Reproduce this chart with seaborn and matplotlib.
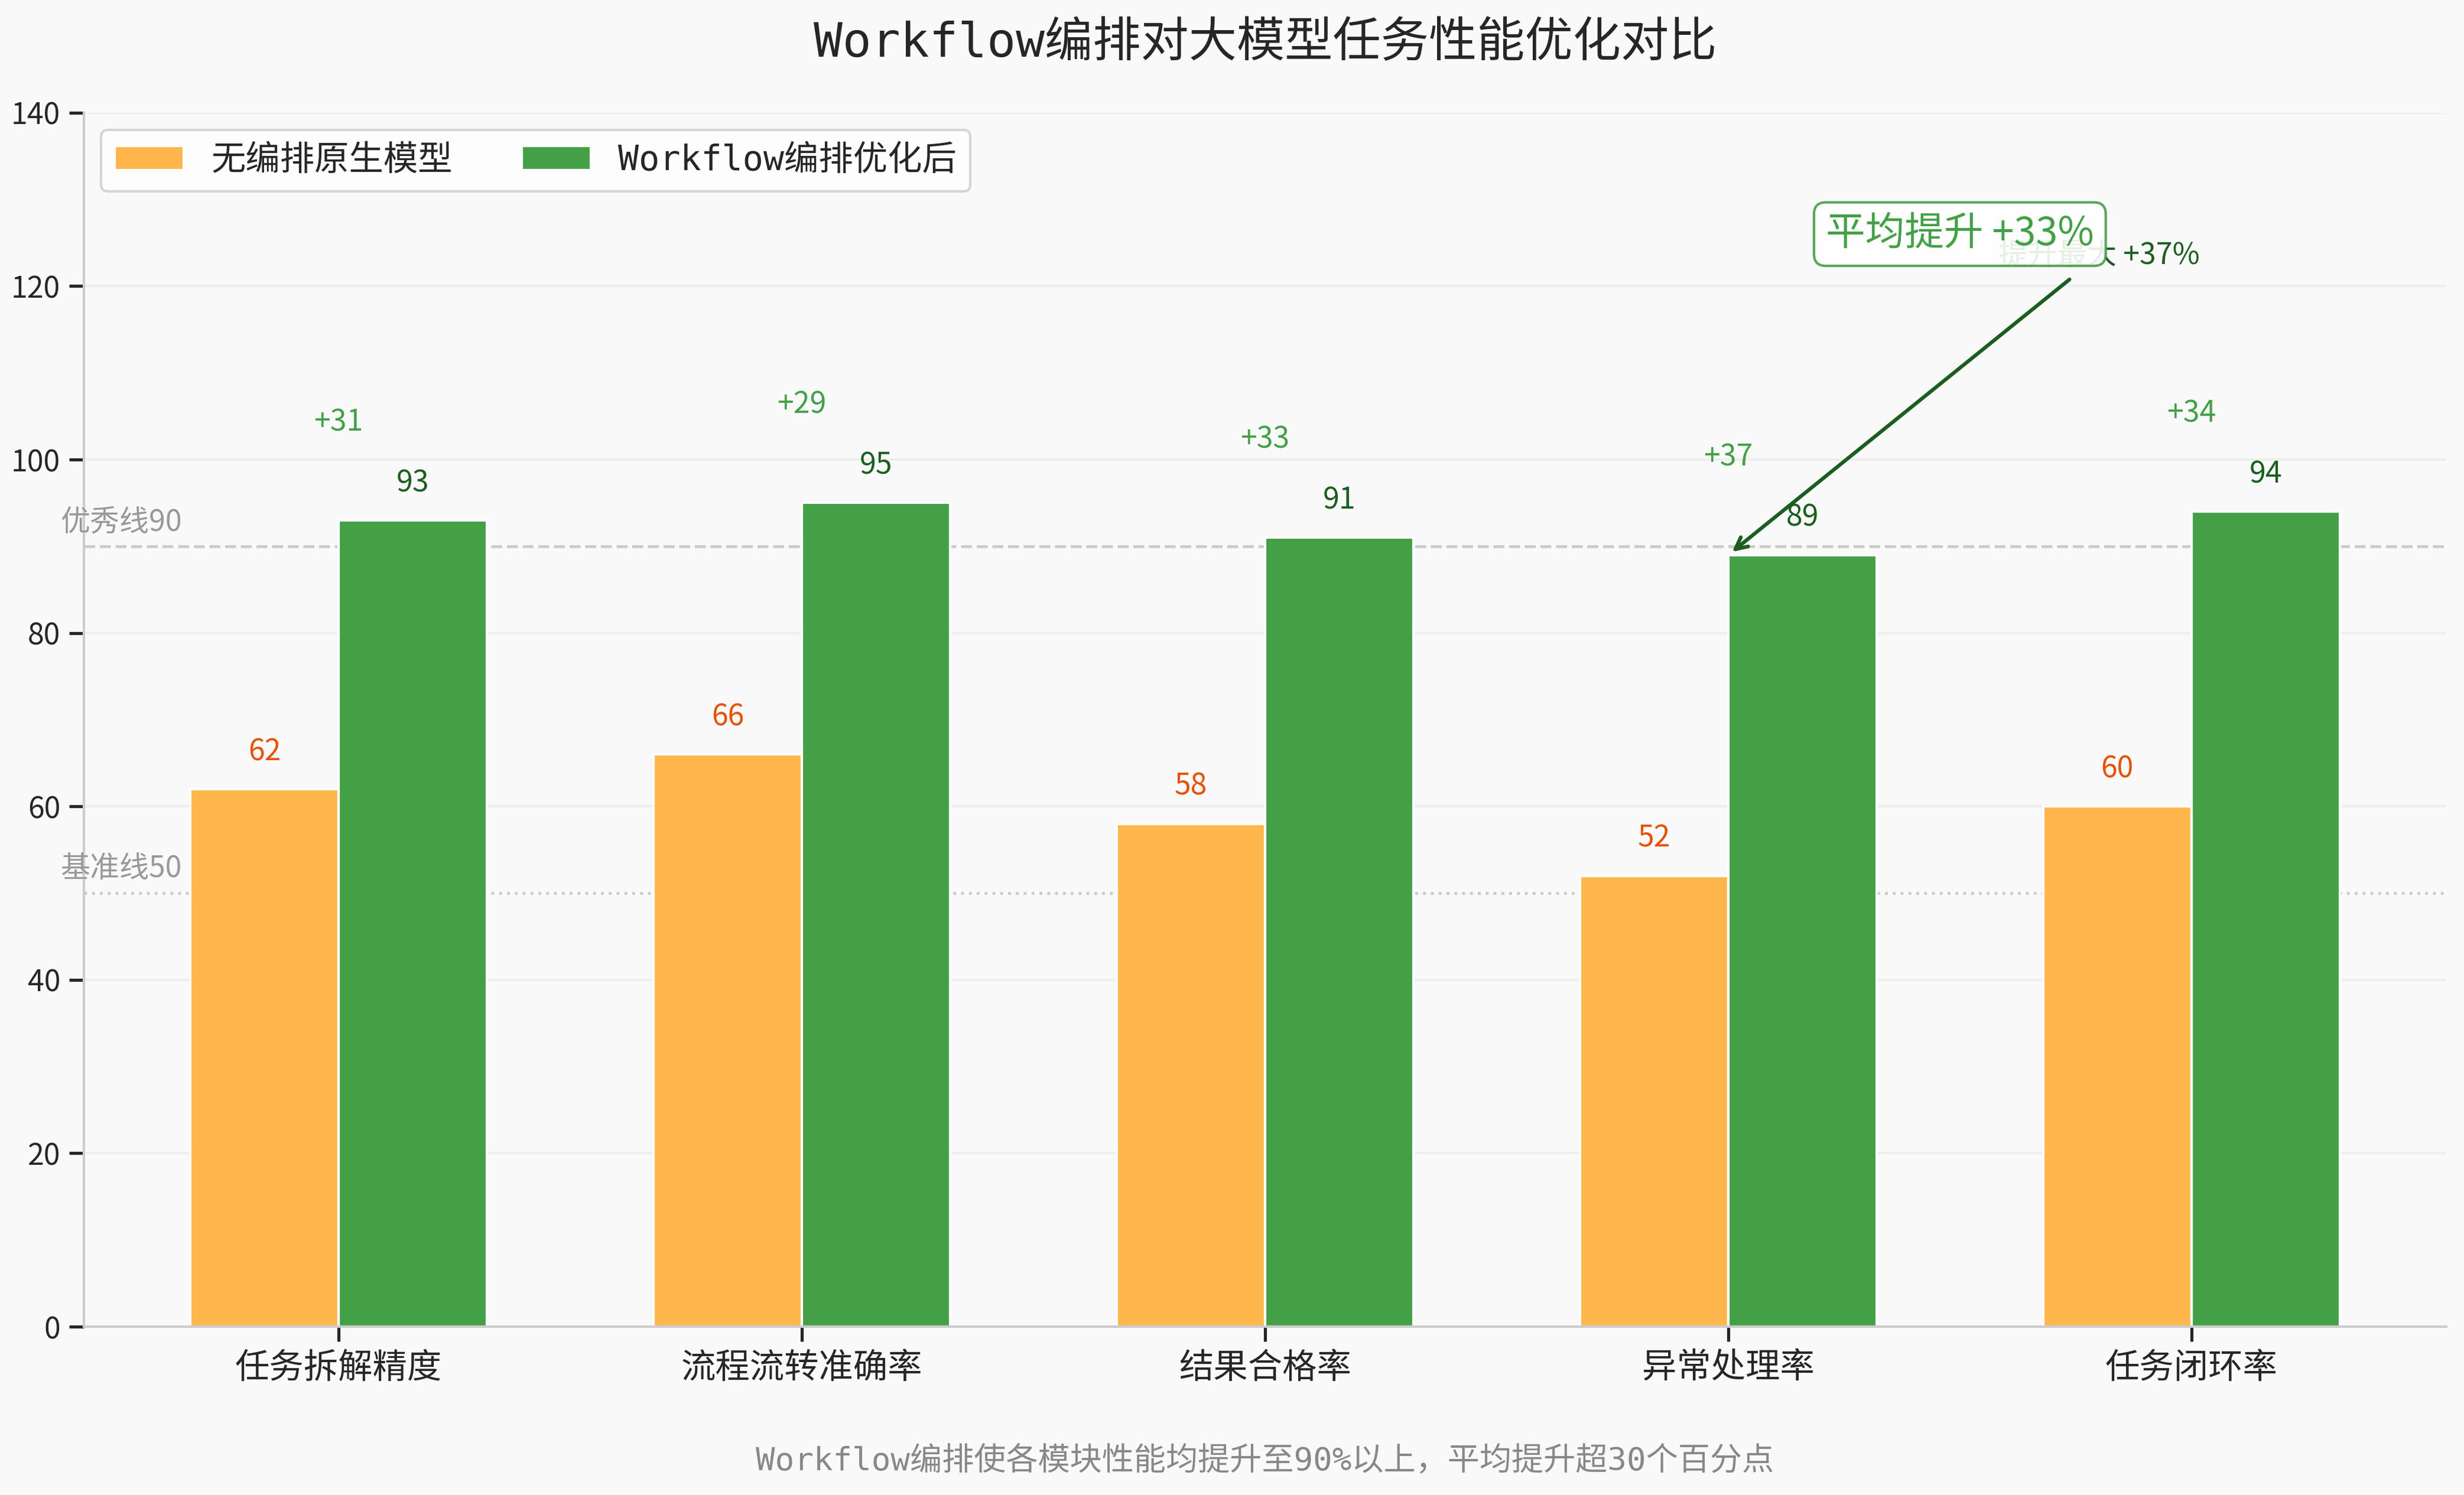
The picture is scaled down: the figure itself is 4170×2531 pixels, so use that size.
import pandas as pd
import matplotlib.pyplot as plt
import seaborn as sns
from matplotlib.font_manager import FontProperties


categories = ['任务拆解精度', '流程流转准确率', '结果合格率', '异常处理率', '任务闭环率']
baseline = [62, 66, 58, 52, 60]
optimized = [93, 95, 91, 89, 94]
series_names = ['无编排原生模型', 'Workflow编排优化后']
yticks = [0, 20, 40, 60, 80, 100, 120, 140]

df = pd.DataFrame({
    '模块': categories * 2,
    '方案': [series_names[0]] * len(categories) + [series_names[1]] * len(categories),
    '得分': baseline + optimized,
})

sns.set_theme(style='ticks')
plt.rcParams['font.family'] = ['Noto Sans CJK SC', 'DejaVu Sans']
mono = ['DejaVu Sans Mono', 'Noto Sans CJK SC']

orange = '#FFB74D'
green = '#43A047'
bg = '#f9f9f9'

fig = plt.figure(figsize=(13.9, 8.4367), dpi=300, facecolor=bg)
ax = fig.add_axes([0.034, 0.1126, 0.9588, 0.812])
ax.set_facecolor(bg)

sns.barplot(ax=ax, data=df, x='模块', y='得分', hue='方案', palette=[orange, green],
            width=0.64, saturation=1, errorbar=None, edgecolor='white', linewidth=1,
            zorder=2)

# reference lines
ax.axhline(90, color='#cccccc', linestyle='--', linewidth=1.2, zorder=1)
ax.axhline(50, color='#cccccc', linestyle=':', linewidth=1.2, zorder=1)
ax.text(-0.6, 91, '优秀线90', fontsize=12, color='#999999', ha='left', va='bottom')
ax.text(-0.6, 51, '基准线50', fontsize=12, color='#999999', ha='left', va='bottom')

# value labels
label_colors = ['#E65100', '#1B5E20']
for cont, col in zip(ax.containers, label_colors):
    for bar in cont:
        h = bar.get_height()
        ax.text(bar.get_x() + bar.get_width() / 2, h + 2.5, f'{h:.0f}',
                ha='center', va='bottom', fontsize=12, color=col)

# improvement labels
for i, (b, o) in enumerate(zip(baseline, optimized)):
    ax.text(i, o + 9.5, f'+{o - b}', ha='center', va='bottom', fontsize=12, color=green)

ax.annotate('提升最大 +37%', xy=(3, 89), xytext=(3.8, 123.5), ha='center', va='center',
            fontsize=12, color='#1B5E20',
            arrowprops=dict(arrowstyle='->', color='#1B5E20', lw=1.5))
ax.text(3.5, 126, '平均提升 +33%', ha='center', va='center', fontsize=16, color=green,
        bbox=dict(boxstyle='round,pad=0.3', facecolor='white', edgecolor=green, alpha=0.9))

ax.set_xlim(-0.55, 4.55)
ax.set_ylim(0, 140)
ax.set_yticks(yticks)
ax.set_xlabel('')
ax.set_ylabel('')
ax.tick_params(axis='x', labelsize=14)
ax.tick_params(axis='y', labelsize=12)
ax.yaxis.grid(True, color='#eeeeee', linewidth=1)
ax.set_axisbelow(True)

sns.despine(ax=ax)
for s in ['left', 'bottom']:
    ax.spines[s].set_color('#cccccc')
    ax.spines[s].set_linewidth(1)

leg = ax.legend(loc='upper left', ncol=2, prop=FontProperties(family=mono, size=14),
                frameon=True, fancybox=True, facecolor='white', edgecolor='#cccccc')

# title and caption centred over the axes
cx = 0.034 + 0.9588 / 2
fig.text(cx, 0.9705, 'Workflow编排对大模型任务性能优化对比', ha='center', va='center',
         fontsize=19.5, family=mono)
fig.text(cx, 0.0229, 'Workflow编排使各模块性能均提升至90%以上，平均提升超30个百分点',
         ha='center', va='center', fontsize=13, color='#888888', family=mono)

fig.savefig('out.png', dpi=300, facecolor=bg)
